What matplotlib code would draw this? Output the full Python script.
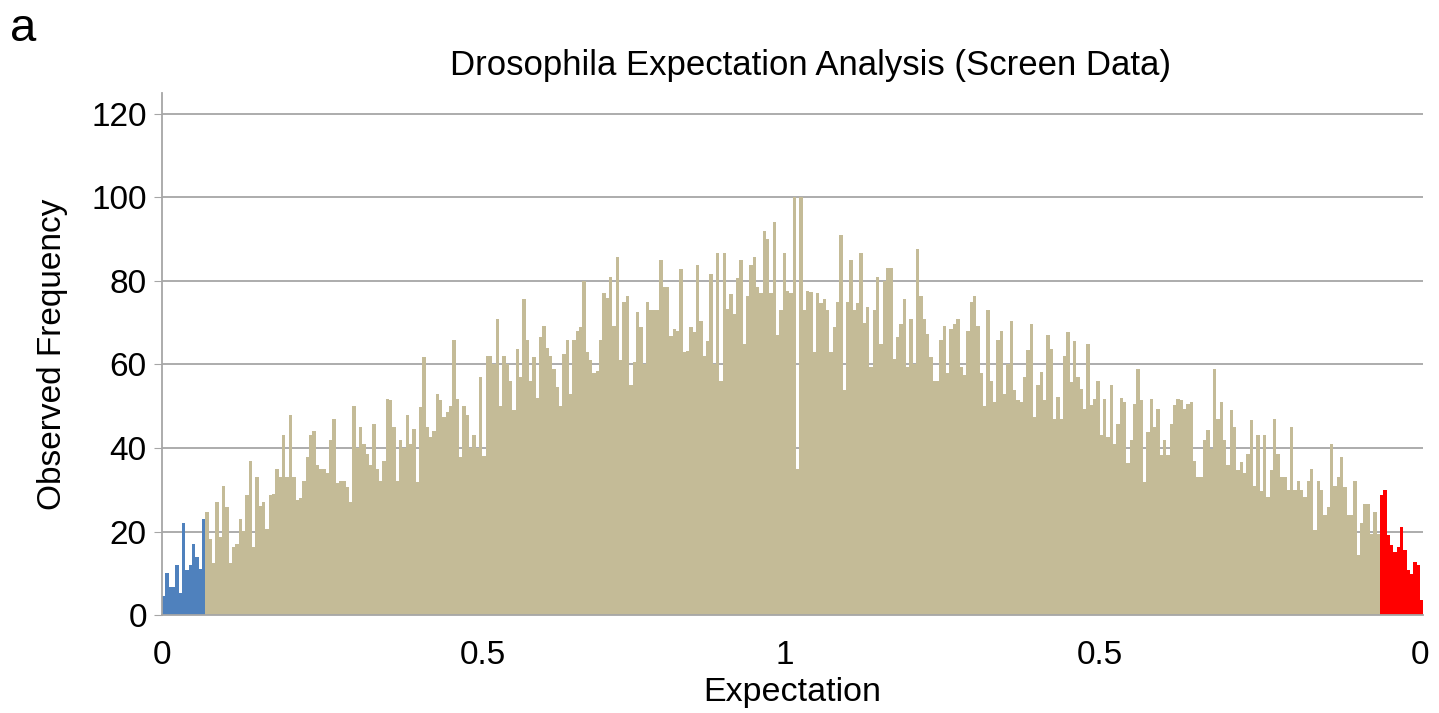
import numpy as np
import matplotlib
matplotlib.use("Agg")
import matplotlib.pyplot as plt

plt.rcParams['font.family'] = ['Liberation Sans', 'DejaVu Sans']

# observed frequency per bin, read left to right
blue_vals = [4.5, 10, 6.8, 6.8, 12, 5.3, 22, 10.8, 12, 17, 14, 11, 23]

tan_vals = [
    # 205-285 px
    24.7, 18.3, 12.4, 27, 18.7, 30.8, 25.9, 12.4, 16.3, 17, 23, 20.2, 28.7,
    37, 16.3, 33, 26, 27, 20.5, 28.7, 29, 35, 33, 43, 33,
    # 285-410
    47.8, 33, 27.5, 28, 32, 37.8, 43, 44, 36, 35, 35, 34, 41.8, 47, 31.5,
    32, 32, 30.7, 27, 50, 40, 45, 41, 38.5, 36, 45.8, 35, 32, 37, 51.8,
    51.4, 45, 32, 42, 40, 48, 41,
    # 410-535
    44.6, 31.9, 49.8, 61.9, 45, 42.6, 44, 53, 51.4, 47.4, 48.6, 50, 65.9,
    51.8, 37.9, 50, 47.8, 39.9, 43, 40, 57, 38, 62, 62, 60, 71, 50, 62, 60,
    56, 49, 63.7, 57, 75.7, 65.8, 56, 61.7, 52,
    # 535-660
    66.5, 69.3, 64, 62, 59, 54.6, 50, 62.5, 65.8, 53, 65.8, 68, 69, 80, 63,
    61, 58, 58.5, 65.8, 77, 76, 81, 69.3, 85.7, 61, 75, 76.5, 55, 60.5,
    72.5, 69, 60, 75, 73, 73, 73, 85,
    # 660-785
    78.5, 78.5, 66.9, 68.5, 68, 82.9, 63, 63.3, 69, 67.7, 83.7, 70.5, 62,
    65.7, 81.6, 60, 86.8, 56, 86.8, 73.3, 76.9, 72, 80.8, 84.9, 65, 76.5,
    83.7, 85.7, 78.5, 77, 92, 90, 77, 94, 67, 73, 86.8,
    # 785-910
    77.7, 77, 100, 35, 100, 73, 77.7, 77.3, 63, 77, 74.6, 75.7, 73, 63, 69,
    75, 91, 54, 75, 85, 73, 74.6, 86.8, 70, 73.7, 59.4, 73, 81, 65, 80, 83,
    83, 61.3, 66.5, 69.8, 75.7, 59.4, 70.9,
    # 910-1035
    60, 87.7, 76.5, 71, 67.3, 61.7, 56, 56, 65.8, 69.3, 58, 68.5, 69.7, 71,
    59.4, 57.4, 68, 74.9, 76.5, 69.3, 58, 50, 73, 56, 51, 65.8, 68, 53, 60,
    70.5, 53.8, 51.4, 51, 57, 63.4, 69.7, 47.4, 55,
    # 1035-1160
    58.2, 51.4, 67, 63.7, 47, 52.2, 47, 62, 67.7, 55.8, 65.7, 57, 54.2,
    49.4, 64.9, 50.2, 51.8, 56, 43, 51.8, 42.6, 55, 41, 45.8, 52, 51, 36.3,
    41.8, 50.6, 59, 51.4, 31.9, 43.8, 51.8, 45, 49.4,
    # 1160-1285
    38.3, 41.8, 38.3, 45.8, 50.2, 51.8, 51.4, 49.4, 50.6, 51, 37, 33, 33,
    41.8, 44.2, 39.8, 58.9, 47, 51, 41.8, 36, 49, 45, 34.7, 36.6, 33.9,
    38.6, 46.6, 31, 43, 29.8, 43, 28.3, 34.7, 47, 38.6, 33,
    # 1285-1382
    33, 29.9, 45, 29.9, 32, 29.9, 28.3, 32, 35, 20.3, 32, 29.9, 23.9, 25.9,
    41, 31, 33, 37.8, 30.7, 23.9, 23.9, 32, 14.4, 22, 26.7, 26.7, 19.5,
    24.7, 19.5,
]

red_vals = [28.7, 29.9, 19.1, 16.7, 15.1, 16.3, 21.1, 15.5, 10.7, 9.9, 12.7, 11.9, 3.5]

tick_labels = ['0', '0.5', '1', '0.5', '0']

values = np.array(blue_vals + tan_vals + red_vals)
colors = (['#4F81BD'] * len(blue_vals) + ['#C4BB97'] * len(tan_vals)
          + ['#FF0000'] * len(red_vals))
n = len(values)
idx = np.arange(n)

fig = plt.figure(figsize=(14.39, 7.13), dpi=100)
ax = fig.add_axes([0.1126, 0.1374, 0.8765, 0.7322])

ax.bar(idx, values, width=1.0, align='edge', color=colors, linewidth=0)

ax.set_xlim(0, n)
ax.set_ylim(0, 125)
ax.set_yticks(np.arange(0, 121, 20))
# tick labels sit at 0, 0.5, 1, 0.5, 0 along the folded axis
ax.set_xticks(np.array([0, 0.2545, 0.4941, 0.7439, 0.9976]) * n)
ax.set_xticklabels(tick_labels)

ax.set_axisbelow(True)
ax.grid(axis='y', color='#A6A6A6', linewidth=1.3)
ax.grid(axis='x', visible=False)

for s in ['top', 'right']:
    ax.spines[s].set_visible(False)
for s in ['left', 'bottom']:
    ax.spines[s].set_color('#A6A6A6')
    ax.spines[s].set_linewidth(1.3)

ax.tick_params(axis='y', length=6, color='#A6A6A6', labelsize=24, pad=5)
ax.tick_params(axis='x', length=0, labelsize=24, pad=18)

ax.set_xlabel('Expectation', fontsize=24.5, labelpad=4)
ax.set_ylabel('Observed Frequency', fontsize=24, labelpad=17)

fig.text(0.563, 0.908, 'Drosophila Expectation Analysis (Screen Data)',
         fontsize=25, ha='center', va='center')
fig.text(0.007, 0.99, 'a', fontsize=34, va='top', ha='left')

fig.savefig('out.png', dpi=100)
